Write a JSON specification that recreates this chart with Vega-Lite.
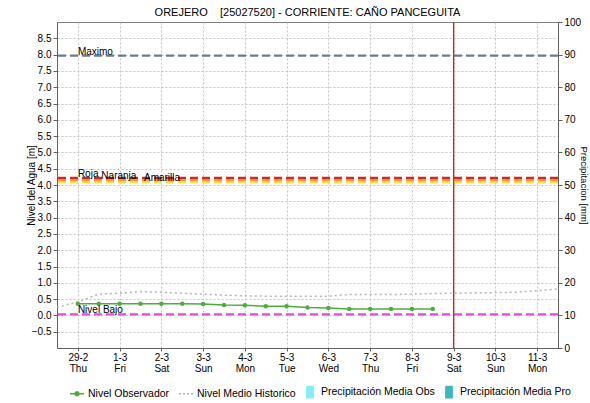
{
  "$schema": "https://vega.github.io/schema/vega-lite/v6.json",
  "width": 501,
  "height": 326,
  "autosize": "none",
  "padding": {"left": 57, "top": 22, "right": 32, "bottom": 55},
  "background": "#ffffff",
  "config": {
    "font": "Liberation Sans",
    "view": {"stroke": "#808080"},
    "axis": {
      "labelFont": "Liberation Sans",
      "labelFontSize": 10,
      "labelColor": "#000000",
      "titleFont": "Liberation Sans",
      "titleFontSize": 10,
      "titleFontWeight": "normal",
      "titleColor": "#000000",
      "gridColor": "#c4c4c4",
      "gridDash": [2, 2],
      "gridOpacity": 1,
      "domainColor": "#606060",
      "tickColor": "#606060",
      "tickSize": 4,
      "labelOverlap": false
    }
  },
  "title": {
    "text": "OREJERO\u00a0\u00a0\u00a0\u00a0[25027520] - CORRIENTE: CAÑO PANCEGUITA",
    "fontSize": 11,
    "font": "Liberation Sans",
    "fontWeight": "normal",
    "color": "#000000",
    "offset": -1,
    "anchor": "middle"
  },
  "datasets": {
    "obs": [
      {"t": "2024-02-29T00:00:00Z", "v": 0.36, "series": "Nivel Observador"},
      {"t": "2024-02-29T12:00:00Z", "v": 0.36, "series": "Nivel Observador"},
      {"t": "2024-03-01T00:00:00Z", "v": 0.36, "series": "Nivel Observador"},
      {"t": "2024-03-01T12:00:00Z", "v": 0.36, "series": "Nivel Observador"},
      {"t": "2024-03-02T00:00:00Z", "v": 0.36, "series": "Nivel Observador"},
      {"t": "2024-03-02T12:00:00Z", "v": 0.36, "series": "Nivel Observador"},
      {"t": "2024-03-03T00:00:00Z", "v": 0.35, "series": "Nivel Observador"},
      {"t": "2024-03-03T12:00:00Z", "v": 0.32, "series": "Nivel Observador"},
      {"t": "2024-03-04T00:00:00Z", "v": 0.31, "series": "Nivel Observador"},
      {"t": "2024-03-04T12:00:00Z", "v": 0.28, "series": "Nivel Observador"},
      {"t": "2024-03-05T00:00:00Z", "v": 0.28, "series": "Nivel Observador"},
      {"t": "2024-03-05T12:00:00Z", "v": 0.24, "series": "Nivel Observador"},
      {"t": "2024-03-06T00:00:00Z", "v": 0.23, "series": "Nivel Observador"},
      {"t": "2024-03-06T12:00:00Z", "v": 0.2, "series": "Nivel Observador"},
      {"t": "2024-03-07T00:00:00Z", "v": 0.2, "series": "Nivel Observador"},
      {"t": "2024-03-07T12:00:00Z", "v": 0.2, "series": "Nivel Observador"},
      {"t": "2024-03-08T00:00:00Z", "v": 0.2, "series": "Nivel Observador"},
      {"t": "2024-03-08T12:00:00Z", "v": 0.2, "series": "Nivel Observador"}
    ],
    "hist": [
      {"t": "2024-02-28T12:00:00Z", "v": 0.25, "series": "Nivel Medio Historico"},
      {"t": "2024-02-29T00:00:00Z", "v": 0.42, "series": "Nivel Medio Historico"},
      {"t": "2024-02-29T12:00:00Z", "v": 0.65, "series": "Nivel Medio Historico"},
      {"t": "2024-03-01T00:00:00Z", "v": 0.68, "series": "Nivel Medio Historico"},
      {"t": "2024-03-01T12:00:00Z", "v": 0.73, "series": "Nivel Medio Historico"},
      {"t": "2024-03-02T00:00:00Z", "v": 0.71, "series": "Nivel Medio Historico"},
      {"t": "2024-03-02T12:00:00Z", "v": 0.68, "series": "Nivel Medio Historico"},
      {"t": "2024-03-03T00:00:00Z", "v": 0.65, "series": "Nivel Medio Historico"},
      {"t": "2024-03-03T12:00:00Z", "v": 0.62, "series": "Nivel Medio Historico"},
      {"t": "2024-03-04T00:00:00Z", "v": 0.6, "series": "Nivel Medio Historico"},
      {"t": "2024-03-04T12:00:00Z", "v": 0.59, "series": "Nivel Medio Historico"},
      {"t": "2024-03-05T00:00:00Z", "v": 0.59, "series": "Nivel Medio Historico"},
      {"t": "2024-03-05T12:00:00Z", "v": 0.59, "series": "Nivel Medio Historico"},
      {"t": "2024-03-06T00:00:00Z", "v": 0.59, "series": "Nivel Medio Historico"},
      {"t": "2024-03-06T12:00:00Z", "v": 0.64, "series": "Nivel Medio Historico"},
      {"t": "2024-03-07T00:00:00Z", "v": 0.64, "series": "Nivel Medio Historico"},
      {"t": "2024-03-07T12:00:00Z", "v": 0.64, "series": "Nivel Medio Historico"},
      {"t": "2024-03-08T00:00:00Z", "v": 0.65, "series": "Nivel Medio Historico"},
      {"t": "2024-03-08T12:00:00Z", "v": 0.67, "series": "Nivel Medio Historico"},
      {"t": "2024-03-09T00:00:00Z", "v": 0.68, "series": "Nivel Medio Historico"},
      {"t": "2024-03-09T12:00:00Z", "v": 0.69, "series": "Nivel Medio Historico"},
      {"t": "2024-03-10T00:00:00Z", "v": 0.7, "series": "Nivel Medio Historico"},
      {"t": "2024-03-10T12:00:00Z", "v": 0.71, "series": "Nivel Medio Historico"},
      {"t": "2024-03-11T00:00:00Z", "v": 0.76, "series": "Nivel Medio Historico"},
      {"t": "2024-03-11T12:00:00Z", "v": 0.81, "series": "Nivel Medio Historico"}
    ],
    "thresholds": [
      {"name": "Maximo", "v": 7.97, "col": "#6f7992", "lt": "2024-02-29T00:00:00Z"},
      {"name": "Amarilla", "v": 4.08, "col": "#f6e04a", "lt": "2024-03-01T14:00:00Z"},
      {"name": "Naranja", "v": 4.15, "col": "#f29a2e", "lt": "2024-02-29T13:30:00Z"},
      {"name": "Roja", "v": 4.22, "col": "#d92424", "lt": "2024-02-29T00:00:00Z"},
      {"name": "Nivel Bajo", "v": 0.03, "col": "#e24ae2", "lt": "2024-02-29T00:00:00Z"}
    ],
    "now": [
      {"t": "2024-03-09T00:00:00Z"}
    ],
    "precip": [
      {"t": "2024-02-29T00:00:00Z", "p": 0, "series": "Precipitación Media Obs"},
      {"t": "2024-03-01T00:00:00Z", "p": 0, "series": "Precipitación Media Obs"},
      {"t": "2024-03-02T00:00:00Z", "p": 0, "series": "Precipitación Media Obs"},
      {"t": "2024-03-09T00:00:00Z", "p": 0, "series": "Precipitación Media Pro"},
      {"t": "2024-03-10T00:00:00Z", "p": 0, "series": "Precipitación Media Pro"}
    ]
  },
  "layer": [
    {
      "layer": [
        {
          "data": {"name": "hist"},
          "mark": {"type": "line", "strokeDash": [2, 3], "strokeWidth": 1.5},
          "encoding": {
            "x": {
              "field": "t",
              "type": "temporal",
              "scale": {
                "type": "utc",
                "padding": 0,
                "nice": false,
                "domain": [
                  {"year": 2024, "month": 2, "date": 28, "hours": 12, "utc": true},
                  {"year": 2024, "month": 3, "date": 11, "hours": 12, "utc": true}
                ]
              },
              "axis": {
                "title": null,
                "tickCount": {"interval": "day", "step": 1},
                "labelExpr": "[utcFormat(datum.value, '%-d-%-m'), utcFormat(datum.value, '%a')]",
                "labelLineHeight": 11,
                "labelPadding": 1,
                "grid": true,
                "tickSize": 3
              }
            },
            "y": {
              "field": "v",
              "type": "quantitative",
              "scale": {"domain": [-1, 9], "nice": false, "zero": false},
              "axis": {
                "orient": "left",
                "title": "Nivel del Agua [m]",
                "titlePadding": -5,
                "values": [-0.5, 0, 0.5, 1, 1.5, 2, 2.5, 3, 3.5, 4, 4.5, 5, 5.5, 6, 6.5, 7, 7.5, 8, 8.5],
                "tickCount": 50,
                "format": ".1f",
                "grid": true,
                "labelOverlap": false,
                "labelSeparation": 0,
                "labelPadding": 2
              }
            },
            "color": {
              "field": "series",
              "type": "nominal",
              "scale": {
                "domain": ["Nivel Observador", "Nivel Medio Historico", "Precipitación Media Obs", "Precipitación Media Pro"],
                "range": ["#4cae3a", "#b4b4b4", "#7ff1f6", "#3bb8c0"]
              },
              "legend": {
                "orient": "none",
                "legendX": 12,
                "legendY": 362,
                "direction": "horizontal",
                "title": null,
                "labelFont": "Liberation Sans",
                "labelFontSize": 10.5,
                "labelColor": "#000000",
                "symbolSize": 196,
                "columnPadding": 6,
                "labelOffset": 3,
                "encode": {
                  "symbols": {
                    "update": {
                      "shape": {"signal": "datum.value === 'Nivel Observador' ? 'M-1,0H1M-0.28,0A0.28,0.28 0 1,1 0.28,0A0.28,0.28 0 1,1 -0.28,0' : (datum.value === 'Nivel Medio Historico' ? 'M-1,0H1' : 'M-0.45,-0.8H0.45V0.8H-0.45Z')"},
                      "fill": {"signal": "datum.value === 'Nivel Observador' ? '#4cae3a' : (datum.value === 'Precipitación Media Obs' ? '#7ff1f6' : (datum.value === 'Precipitación Media Pro' ? '#3bb8c0' : 'transparent'))"},
                      "stroke": {"signal": "datum.value === 'Nivel Observador' ? '#4cae3a' : (datum.value === 'Nivel Medio Historico' ? '#b4b4b4' : 'transparent')"},
                      "strokeDash": {"signal": "datum.value === 'Nivel Medio Historico' ? [2, 2] : [1, 0]"},
                      "strokeWidth": {"value": 1.5},
                      "opacity": {"value": 1}
                    }
                  }
                }
              }
            }
          }
        },
        {
          "data": {"name": "thresholds"},
          "mark": {"type": "rule", "strokeDash": [8, 4], "strokeWidth": 2.2},
          "encoding": {
            "y": {"field": "v", "type": "quantitative"},
            "stroke": {"field": "col", "type": "nominal", "scale": null}
          }
        },
        {
          "data": {"name": "obs"},
          "mark": {"type": "line", "strokeWidth": 1.5, "point": {"filled": true, "size": 20}},
          "encoding": {
            "x": {"field": "t", "type": "temporal"},
            "y": {"field": "v", "type": "quantitative"},
            "color": {"field": "series", "type": "nominal"}
          }
        },
        {
          "data": {"name": "now"},
          "mark": {"type": "rule", "color": "#d81e1e", "strokeWidth": 1.3, "opacity": 1},
          "encoding": {
            "x": {"field": "t", "type": "temporal"}
          }
        },
        {
          "data": {"name": "thresholds"},
          "mark": {"type": "text", "align": "left", "baseline": "bottom", "fontSize": 10, "font": "Liberation Sans", "color": "#000000", "dy": 1},
          "encoding": {
            "x": {"field": "lt", "type": "temporal"},
            "y": {"field": "v", "type": "quantitative"},
            "text": {"field": "name"}
          }
        }
      ]
    },
    {
      "data": {"name": "precip"},
      "mark": {"type": "bar", "width": 6},
      "encoding": {
        "x": {"field": "t", "type": "temporal"},
        "y": {
          "field": "p",
          "type": "quantitative",
          "scale": {"domain": [0, 100], "nice": false},
          "axis": {
            "orient": "right",
            "title": "Precipitacion [mm]",
            "titleAngle": 90,
            "titlePadding": -2,
            "titleFontSize": 9.5,
            "values": [0, 10, 20, 30, 40, 50, 60, 70, 80, 90, 100],
            "tickCount": 20,
            "grid": false,
            "labelPadding": 2
          }
        },
        "color": {"field": "series", "type": "nominal"}
      }
    }
  ],
  "resolve": {"scale": {"y": "independent"}, "axis": {"y": "independent"}}
}
